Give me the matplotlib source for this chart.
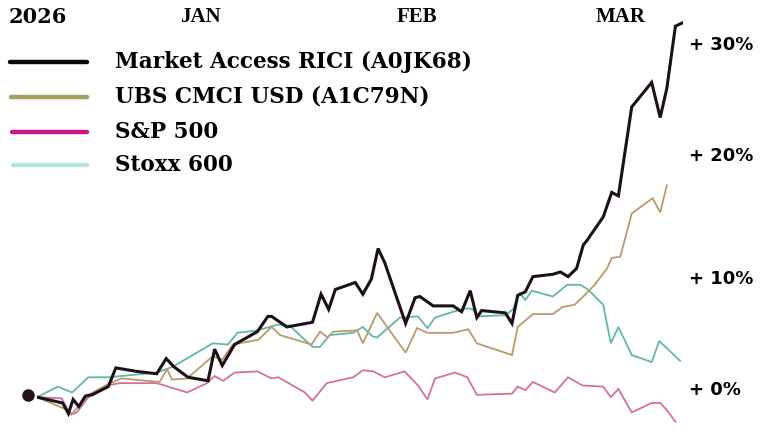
import matplotlib.pyplot as plt
from matplotlib.lines import Line2D

# days since 31 Dec 2025, performance in %
rici_days = [0.0, 2.7, 3.3, 3.8, 4.4, 5.1, 5.8, 7.5, 8.3, 10.5, 12.6, 13.6, 14.4, 15.9, 18.0,
             18.7, 19.5, 20.8, 23.2, 24.3, 24.7, 26.3, 29.0, 29.9, 30.7, 31.4, 33.5, 34.3,
             35.2, 35.9, 36.6, 38.8, 39.8, 40.3, 41.7, 43.8, 44.7, 45.6, 46.3, 46.8, 49.3,
             50.0, 50.6, 51.4, 52.2, 54.3, 55.1, 55.9, 56.8, 57.5, 57.9, 59.6, 60.5, 61.2,
             62.6, 64.7, 65.6, 66.3, 67.2, 67.7, 68.0]
rici = [-0.1, -0.6, -1.5, -0.3, -0.9, 0.0, 0.1, 0.8, 2.4, 2.1, 1.9, 3.2, 2.5, 1.6, 1.3,
        4.0, 2.6, 4.4, 5.5, 6.8, 6.8, 5.9, 6.3, 8.7, 7.4, 9.1, 9.7, 8.7,
        10.0, 12.6, 11.4, 6.2, 8.4, 8.5, 7.7, 7.7, 7.2, 9.0, 6.7, 7.3, 7.1,
        6.2, 8.6, 8.9, 10.2, 10.4, 10.6, 10.2, 10.9, 12.9, 13.3, 15.3, 17.4, 17.1,
        24.7, 26.8, 23.8, 26.3, 31.6, 31.8, 31.9]

cmci_days = [0.0, 3.2, 3.7, 5.4, 7.7, 8.9, 12.9, 13.7, 14.2, 15.8, 18.5, 19.5, 20.6, 23.3,
             24.7, 25.6, 28.9, 29.8, 30.6, 31.2, 33.7, 34.3, 35.8, 38.8, 40.0, 41.1, 43.8,
             45.4, 46.3, 50.0, 50.6, 52.2, 54.3, 55.3, 56.6, 57.5, 58.7, 60.0, 60.5, 61.4,
             62.6, 64.8, 65.6, 66.3]
cmci = [-0.1, -1.2, -1.5, 0.1, 1.1, 1.5, 1.2, 2.3, 1.4, 1.5, 3.4, 3.1, 4.4, 4.8,
        5.9, 5.2, 4.4, 5.5, 5.0, 5.5, 5.6, 4.5, 7.1, 3.7, 5.8, 5.4, 5.4,
        5.7, 4.5, 3.5, 5.9, 7.0, 7.0, 7.6, 7.8, 8.5, 9.5, 10.9, 11.8, 11.9,
        15.6, 16.9, 15.7, 18.0]

sp_days = [0.0, 2.6, 3.5, 4.2, 5.4, 7.4, 8.7, 12.6, 15.8, 17.9, 18.7, 19.6, 20.8, 23.2,
           24.7, 25.4, 28.2, 29.0, 30.5, 33.3, 34.3, 35.4, 36.6, 38.7, 40.1, 41.1, 41.9,
           44.0, 45.3, 46.3, 50.0, 50.6, 51.4, 52.2, 54.5, 55.9, 57.4, 59.6, 60.4, 61.2,
           62.6, 64.7, 65.6, 66.3, 67.2]
sp500 = [-0.1, -0.2, -1.6, -1.4, -0.1, 0.9, 1.1, 1.1, 0.3, 1.1, 1.7, 1.3, 2.0, 2.1,
         1.5, 1.6, 0.3, -0.4, 1.1, 1.6, 2.2, 2.1, 1.6, 2.1, 0.9, -0.3, 1.5,
         2.0, 1.6, 0.1, 0.2, 0.8, 0.5, 1.2, 0.3, 1.6, 0.9, 0.8, -0.1, 0.6,
         -1.4, -0.6, -0.6, -1.2, -2.2]

stoxx_days = [0.0, 2.2, 3.7, 5.4, 7.5, 12.6, 14.3, 18.5, 20.1, 21.1, 23.2, 25.3, 26.6, 29.0,
              29.8, 30.8, 33.3, 34.3, 35.3, 35.8, 38.2, 40.1, 41.1, 41.9, 43.8, 45.3, 45.9,
              46.3, 49.3, 50.1, 50.8, 51.4, 52.1, 54.3, 55.8, 57.2, 58.0, 59.6, 60.4, 61.2,
              62.6, 64.7, 65.5, 67.7]
stoxx = [-0.1, 0.8, 0.3, 1.6, 1.6, 2.0, 2.5, 4.5, 4.4, 5.4, 5.6, 6.1, 6.0, 4.2,
         4.2, 5.2, 5.4, 5.9, 5.1, 5.0, 6.7, 6.8, 5.8, 6.7, 7.2, 7.5, 7.4,
         6.8, 6.9, 7.4, 8.8, 8.2, 9.0, 8.5, 9.5, 9.5, 9.1, 7.8, 4.5, 5.9,
         3.5, 2.9, 4.7, 3.0]

names = ["Market Access RICI (A0JK68)", "UBS CMCI USD (A1C79N)", "S&P 500", "Stoxx 600"]
line_colors = ["#1c1119", "#b99a6c", "#d66fa0", "#5fb9a9"]
legend_colors = ["#0b0b0b", "#a3a060", "#c8188f", "#b5e5de"]

month_days = [17.2, 40.0, 61.4]
month_labels = ["JAN", "FEB", "MAR"]
pct_ticks = [0, 10, 20, 30]

W, H = 764, 433
fig = plt.figure(figsize=(W / 100, H / 100), dpi=100)
ax = fig.add_axes([37 / W, 8 / H, 646 / W, 410 / H])
ax.set_xlim(0, 68)
ax.set_ylim(-2.48, 32.56)
ax.axis('off')

series = [(stoxx_days, stoxx, 3), (sp_days, sp500, 2), (cmci_days, cmci, 1), (rici_days, rici, 0)]
for days, vals, i in series:
    lw = 2.2 if i == 0 else 1.3
    ax.plot(days, vals, color=line_colors[i], linewidth=lw, solid_joinstyle='miter', zorder=3 + (i == 0))

# start marker
ax.plot([-0.95], [0.1], 'o', color='#24141f', markersize=8, clip_on=False, zorder=5)

# top labels: year on the left, months over the data
fig.text(38 / W, 1 - 17 / H, "2026", ha='center', va='center',
         fontsize=15, fontweight='bold', family='DejaVu Serif')
top_y = 1 - 17 / H
for d, lab in zip(month_days, month_labels):
    x_fig = ax.transData.transform((d, 0))[0] / fig.dpi / fig.get_figwidth()
    fig.text(x_fig, top_y, lab, ha='center', va='center', fontsize=15,
             fontweight='bold', family='Liberation Serif')

# right percent labels
for p in pct_ticks:
    ax.text(68.6, p + 0.5 if p in (0, 20) else p, f"+ {p}%", ha='left', va='center',
            fontsize=13, fontweight='bold', family='DejaVu Sans', clip_on=False)

# legend drawn by hand
legend_y = [62, 97, 132, 165]
for i, name in enumerate(names):
    y = 1 - legend_y[i] / H
    x0 = (10 + i) / W
    fig.add_artist(Line2D([x0, 87 / W], [y, y], color=legend_colors[i], linewidth=3.2,
                          solid_capstyle='round', transform=fig.transFigure))
    fig.text(115 / W, y, name, ha='left', va='center', fontsize=15.5,
             fontweight='bold', family='DejaVu Serif')

fig.savefig('out.png', dpi=100, facecolor='white')
